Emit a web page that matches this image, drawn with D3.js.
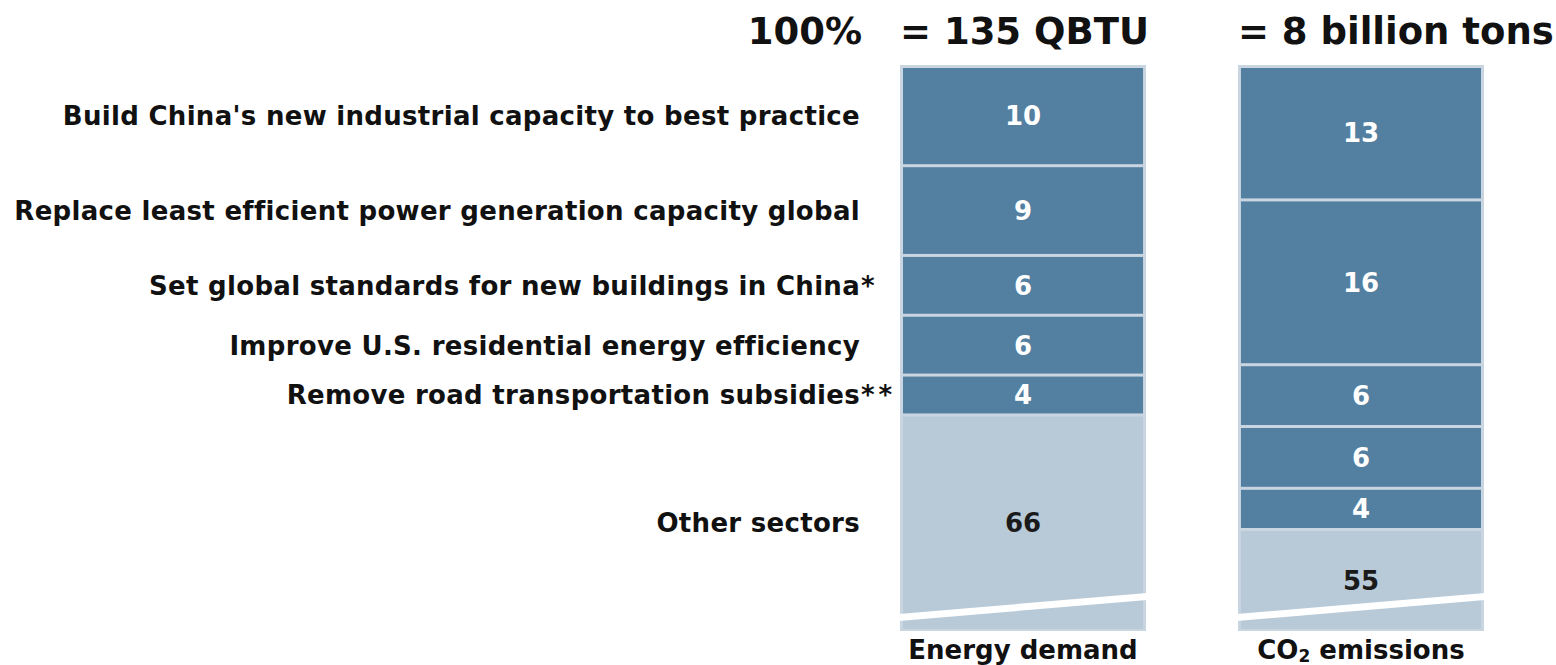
<!DOCTYPE html>
<html>
<head>
<meta charset="utf-8">
<script src="https://cdn.jsdelivr.net/npm/d3@7"></script>
<style>
  body { margin: 0; background: #fff; }
  text { font-family: "DejaVu Sans", Verdana, sans-serif; font-weight: bold; fill: #111; }
</style>
</head>
<body>
<svg id="chart"></svg>
<script>
// Levers (row labels) and footnote marks
const levers = [
  "Build China's new industrial capacity to best practice",
  "Replace least efficient power generation capacity global",
  "Set global standards for new buildings in China",
  "Improve U.S. residential energy efficiency",
  "Remove road transportation subsidies",
  "Other sectors"
];
const footnotes = ["", "", "*", "", "**", ""];

// Columns
const columns = ["Energy demand", "CO2 emissions"];
const totals = ["= 135 QBTU", "= 8 billion tons"];
const totalPrefix = "100%";

// Shares in percent (last entry = other sectors)
const energyShares = [10, 9, 6, 6, 4, 66];
const co2Shares = [13, 16, 6, 6, 4, 55];

const W = 1556, H = 665;
const barTop = 66, barBottom = 631;
const unitPx = [9.97, 10.3];   // vertical pixels per percentage point, per column

const svg = d3.select('#chart')
  .attr('width', W)
  .attr('height', H);

const x = d3.scaleBand()
  .domain(columns)
  .range([900, 1484])
  .paddingInner(0.272)
  .paddingOuter(0);

const dark = '#537fa1';
const light = '#b8cad8';
const edge = '#c9d6e1';

function stack(values) {
  let acc = 0;
  return values.map((v, i) => {
    const d = { i: i, v: v, y0: acc, y1: acc + v, other: i === values.length - 1 };
    acc += v;
    return d;
  });
}

const series = [energyShares, co2Shares];
const yScales = [];

series.forEach((values, c) => {
  const col = columns[c];
  const x0 = x(col), bw = x.bandwidth();
  const y = d3.scaleLinear().domain([0, 100]).range([barTop, barTop + 100 * unitPx[c]]);
  yScales.push(y);
  const data = stack(values);

  const g = svg.append('g').attr('class', 'column');

  // light frame behind segments
  g.append('rect')
    .attr('x', x0)
    .attr('y', barTop - 1)
    .attr('width', bw)
    .attr('height', barBottom - barTop + 1)
    .attr('fill', edge);

  const segTop = d => y(d.y0) + (d.i === 0 ? 2 : 1.5);
  const segBottom = d => d.other ? barBottom - 2 : y(d.y1) - 1.5;

  g.selectAll('rect.seg')
    .data(data)
    .join('rect')
    .attr('class', 'seg')
    .attr('x', x0 + 3)
    .attr('y', segTop)
    .attr('width', bw - 6)
    .attr('height', d => segBottom(d) - segTop(d))
    .attr('fill', d => d.other ? light : dark);

  // axis break across the "other" segment
  g.append('path')
    .attr('d', `M${x0 - 1},${barBottom - 17} L${x0 + bw + 1},${barBottom - 38} L${x0 + bw + 1},${barBottom - 31} L${x0 - 1},${barBottom - 10} Z`)
    .attr('fill', '#fff');

  // value labels
  g.selectAll('text.val')
    .data(data)
    .join('text')
    .attr('class', 'val')
    .attr('x', x0 + bw / 2)
    .attr('y', d => d.other ? (y(d.y0) + barBottom) / 2 : (y(d.y0) + y(d.y1)) / 2)
    .attr('dy', '0.36em')
    .attr('text-anchor', 'middle')
    .style('font-size', '26px')
    .style('fill', d => d.other ? '#1a1a1a' : '#fff')
    .text(d => d.v);

  // header total
  svg.append('text')
    .attr('x', x0)
    .attr('y', 44)
    .style('font-size', '37px')
    .text(totals[c]);

  // column label
  const lab = svg.append('text')
    .attr('x', x0 + bw / 2)
    .attr('y', 659)
    .attr('text-anchor', 'middle')
    .style('font-size', '26px');
  if (col.startsWith('CO2')) {
    lab.append('tspan').text('CO');
    lab.append('tspan').style('font-size', '17px').attr('dy', 3).text('2');
    lab.append('tspan').attr('dy', -3).text(' emissions');
  } else {
    lab.text(col);
  }
});

svg.append('text')
  .attr('x', 862)
  .attr('y', 44)
  .attr('text-anchor', 'end')
  .style('font-size', '37px')
  .text(totalPrefix);

// row labels aligned with the energy column segments
const yE = yScales[0];
const energyStack = stack(energyShares);
const labelRight = 860;

const rows = svg.append('g').attr('class', 'rows');
rows.selectAll('text.lever')
  .data(energyStack)
  .join('text')
  .attr('class', 'lever')
  .attr('x', labelRight)
  .attr('y', d => d.other ? (yE(d.y0) + barBottom) / 2 : (yE(d.y0) + yE(d.y1)) / 2)
  .attr('dy', '0.36em')
  .attr('text-anchor', 'end')
  .attr('letter-spacing', 0.3)
  .style('font-size', '26px')
  .text(d => levers[d.i]);

rows.selectAll('text.note')
  .data(energyStack.filter(d => footnotes[d.i]))
  .join('text')
  .attr('class', 'note')
  .attr('x', labelRight + 1)
  .attr('y', d => (yE(d.y0) + yE(d.y1)) / 2)
  .attr('dy', '0.36em')
  .attr('letter-spacing', 4)
  .style('font-size', '26px')
  .text(d => footnotes[d.i]);
</script>
</body>
</html>
